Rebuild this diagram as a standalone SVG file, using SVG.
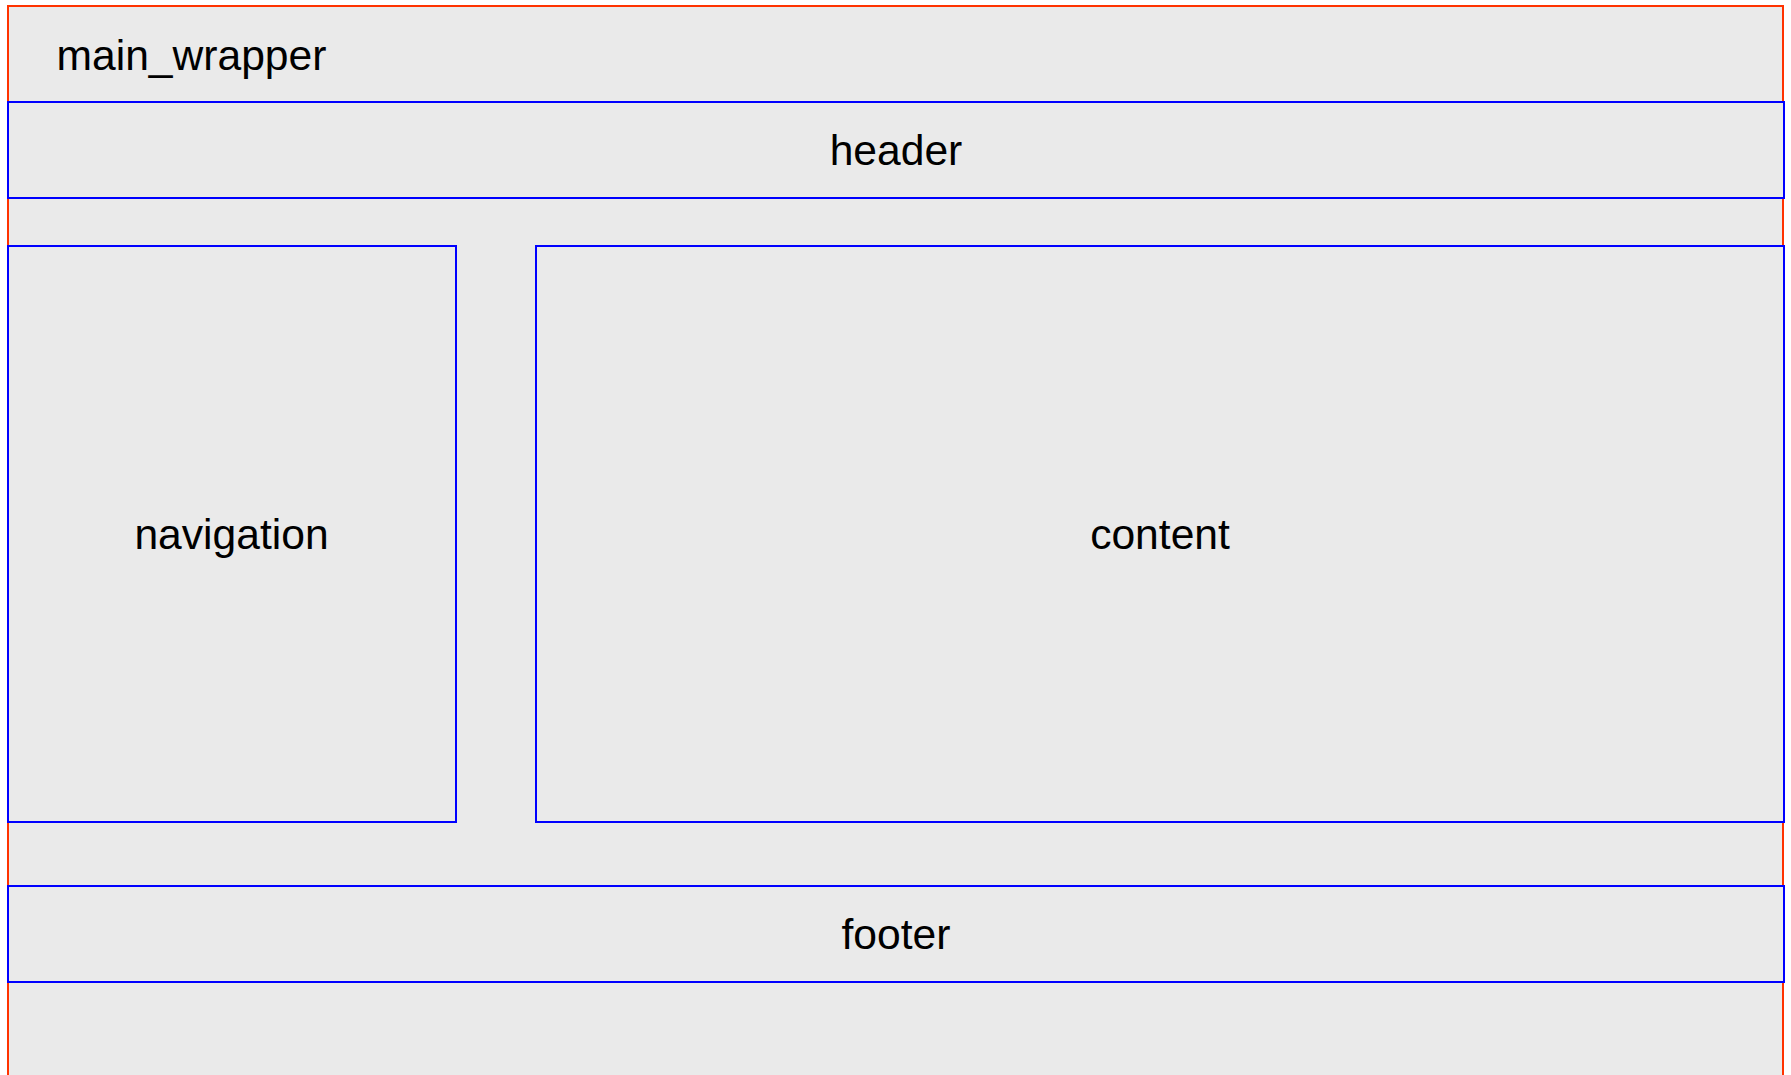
<svg xmlns="http://www.w3.org/2000/svg" width="1791" height="1075" viewBox="0 0 1791 1075">
<style>
.wrap{fill:#eaeaea;stroke:#ff3300;stroke-width:2}
.box{fill:#eaeaea;stroke:#0000ff;stroke-width:2}
text{font-family:"Liberation Sans",Arial,sans-serif;font-size:42.6px;fill:#000}
.c{text-anchor:middle}
</style>
<rect width="1791" height="1075" fill="#ffffff"/>
<g id="main_wrapper">
<rect class="wrap" x="8" y="6" width="1775" height="1080"/>
<text x="56.5" y="70">main_wrapper</text>
</g>
<g id="header">
<rect class="box" x="8" y="102" width="1776" height="96"/>
<text class="c" x="896" y="165">header</text>
</g>
<g id="navigation">
<rect class="box" x="8" y="246" width="448" height="576"/>
<text class="c" x="231.5" y="549">navigation</text>
</g>
<g id="content">
<rect class="box" x="536" y="246" width="1248" height="576"/>
<text class="c" x="1160" y="549">content</text>
</g>
<g id="footer">
<rect class="box" x="8" y="886" width="1776" height="96"/>
<text class="c" x="896" y="949">footer</text>
</g>
<g id="connectors"></g>
</svg>
